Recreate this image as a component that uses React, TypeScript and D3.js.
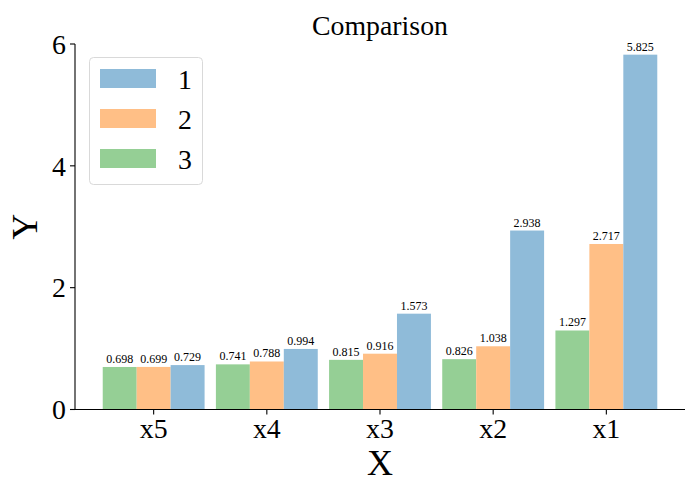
import React from "react";
import * as d3 from "d3";

const categories = ["x5", "x4", "x3", "x2", "x1"];
const series1 = [0.729, 0.994, 1.573, 2.938, 5.825];
const series2 = [0.699, 0.788, 0.916, 1.038, 2.717];
const series3 = [0.698, 0.741, 0.815, 0.826, 1.297];
const yTicks = [0, 2, 4, 6];
const seriesNames = ["1", "2", "3"];

const W = 700;
const H = 497;
const FONT = "'Liberation Serif', 'Times New Roman', serif";

const App: React.FC = () => {
  const left = 75;
  const right = 685;
  const top = 44;
  const bottom = 409.5;
  const barW = 0.3;

  const x = d3.scaleLinear().domain([-0.695, 4.695]).range([left, right]);
  const y = d3.scaleLinear().domain([0, 6]).range([bottom, top]);

  // green (3) left, orange (2) middle, blue (1) right
  const groups = [
    { name: "3", values: series3, offset: -barW, color: "#95cf95" },
    { name: "2", values: series2, offset: 0, color: "#ffbf86" },
    { name: "1", values: series1, offset: barW, color: "#8fbbd9" },
  ];
  const legendColors: Record<string, string> = { "1": "#8fbbd9", "2": "#ffbf86", "3": "#95cf95" };

  const pw = x(barW) - x(0);

  return (
    <svg width={W} height={H} style={{ display: "block", margin: "-8px" }} fontFamily={FONT}>
      <rect width={W} height={H} fill="#fff" />

      {groups.map((g) =>
        g.values.map((v, i) => {
          const cx = x(i + g.offset);
          return (
            <g key={g.name + i}>
              <rect x={cx - pw / 2} y={y(v)} width={pw} height={y(0) - y(v)} fill={g.color} />
              <text x={cx} y={y(v) - 4} fontSize={12} textAnchor="middle" fill="#000">
                {v.toFixed(3)}
              </text>
            </g>
          );
        })
      )}

      {/* spines */}
      <line x1={left} x2={left} y1={top} y2={bottom} stroke="#000" strokeWidth={1.1} />
      <line x1={left} x2={right} y1={bottom} y2={bottom} stroke="#000" strokeWidth={1.1} />

      {yTicks.map((t) => (
        <g key={t}>
          <line x1={left - 5} x2={left} y1={y(t)} y2={y(t)} stroke="#000" strokeWidth={1.1} />
          <text x={left - 9} y={y(t)} dy="0.35em" fontSize={27.8} textAnchor="end">
            {t}
          </text>
        </g>
      ))}

      {categories.map((c, i) => (
        <g key={c}>
          <line x1={x(i)} x2={x(i)} y1={bottom} y2={bottom + 5} stroke="#000" strokeWidth={1.1} />
          <text x={x(i)} y={bottom + 28} fontSize={27.8} textAnchor="middle">
            {c}
          </text>
        </g>
      ))}

      <text x={(left + right) / 2} y={35} fontSize={27.8} textAnchor="middle">
        Comparison
      </text>
      <text x={(left + right) / 2} y={475} fontSize={36} textAnchor="middle">
        X
      </text>
      <text
        transform={`translate(${37},${(top + bottom) / 2}) rotate(-90)`}
        fontSize={36}
        textAnchor="middle"
      >
        Y
      </text>

      {/* legend */}
      <rect x={89.5} y={57.5} width={113} height={127} rx={4} fill="#fff" fillOpacity={0.8} stroke="#d9d9d9" />
      {seriesNames.map((n, i) => (
        <g key={n}>
          <rect x={100} y={69 + i * 40} width={56} height={19} fill={legendColors[n]} />
          <text x={178} y={88.5 + i * 40} fontSize={27.8}>
            {n}
          </text>
        </g>
      ))}
    </svg>
  );
};

export default App;
